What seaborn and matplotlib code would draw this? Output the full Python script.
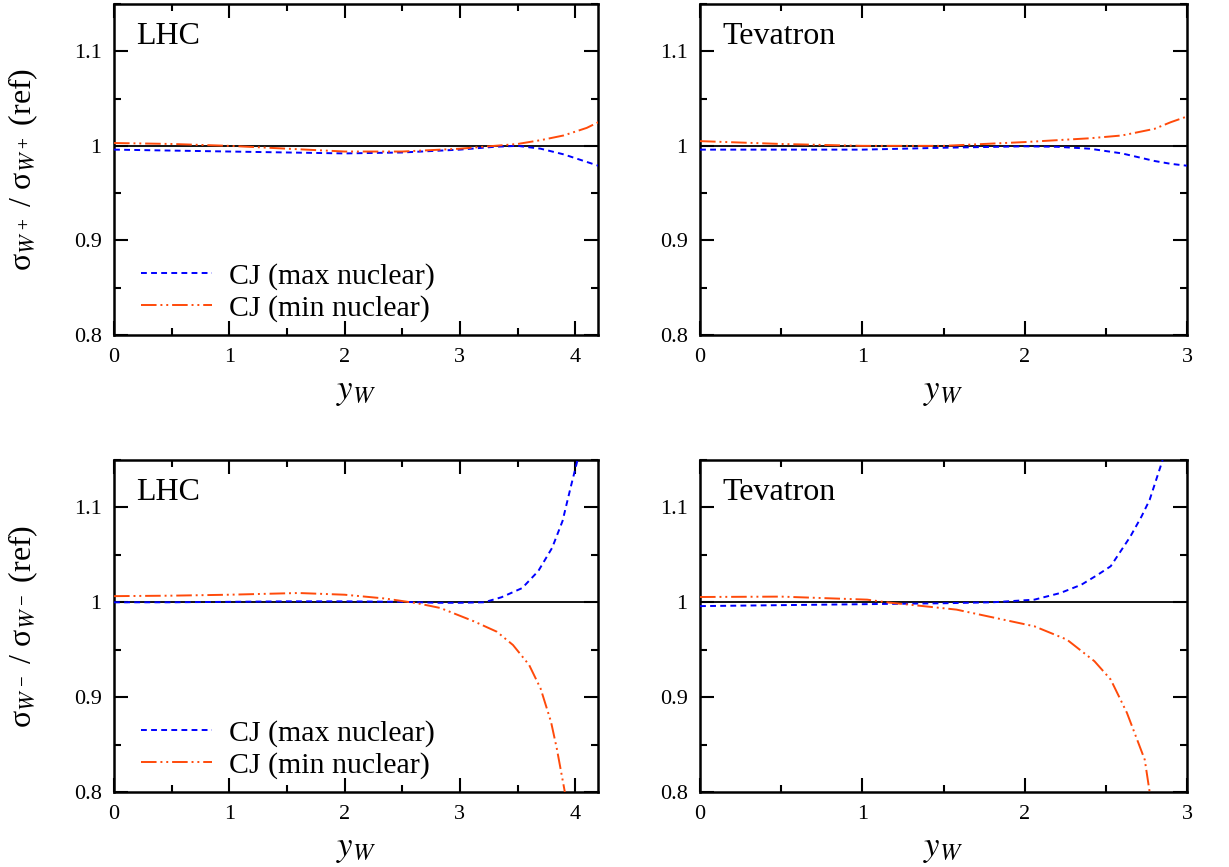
import pandas as pd
import seaborn as sns
import matplotlib.pyplot as plt
from matplotlib.ticker import MultipleLocator, FuncFormatter

# rapidity grids and ratios
# W+ at LHC
lhc_wp_x = [0, 0.5, 1, 1.5, 2, 2.5, 3, 3.3, 3.5, 3.7, 3.9, 4.1, 4.2]
lhc_wp_max = [0.996, 0.995, 0.994, 0.993, 0.992, 0.993, 0.996, 0.999, 1.000, 0.997, 0.991, 0.983, 0.979]
lhc_wp_min = [1.003, 1.002, 1.000, 0.997, 0.994, 0.994, 0.997, 1.000, 1.002, 1.006, 1.011, 1.019, 1.025]

# W+ at Tevatron
tev_wp_x = [0, 0.5, 1, 1.5, 2, 2.2, 2.4, 2.6, 2.8, 2.9, 3.0]
tev_wp_max = [0.996, 0.996, 0.996, 0.998, 0.9995, 0.999, 0.997, 0.992, 0.984, 0.981, 0.979]
tev_wp_min = [1.005, 1.002, 1.000, 1.000, 1.004, 1.006, 1.008, 1.011, 1.018, 1.025, 1.031]

# W- at LHC
lhc_wm_x_max = [0, 0.5, 1, 1.5, 2, 2.5, 2.8, 3.0, 3.21, 3.36, 3.54, 3.68, 3.8, 3.89, 3.96, 4.02]
lhc_wm_max = [1.0, 1.0, 1.0005, 1.001, 1.001, 1.0005, 0.9995, 0.9995, 1.0, 1.0053, 1.015, 1.033, 1.0575, 1.0857, 1.121, 1.15]
lhc_wm_x_min = [0, 0.5, 1.0, 1.6, 2.0, 2.35, 2.63, 2.83, 3.12, 3.32, 3.46, 3.6, 3.7, 3.79, 3.84, 3.91]
lhc_wm_min = [1.0065, 1.007, 1.008, 1.0098, 1.008, 1.004, 0.999, 0.994, 0.980, 0.969, 0.955, 0.934, 0.909, 0.874, 0.846, 0.80]

# W- at Tevatron
tev_wm_x_max = [0, 0.5, 1.0, 1.5, 1.8, 2.06, 2.22, 2.35, 2.45, 2.53, 2.65, 2.72, 2.77, 2.81, 2.85]
tev_wm_max = [0.996, 0.997, 0.998, 0.999, 1.0, 1.0028, 1.0098, 1.0186, 1.029, 1.038, 1.069, 1.0905, 1.108, 1.129, 1.15]
tev_wm_x_min = [0, 0.5, 1.03, 1.15, 1.58, 2.06, 2.26, 2.43, 2.53, 2.63, 2.74, 2.77]
tev_wm_min = [1.0056, 1.006, 1.0028, 1.0, 0.9923, 0.9747, 0.9607, 0.9379, 0.9186, 0.8835, 0.834, 0.80]

panel_labels = ["LHC", "Tevatron", "LHC", "Tevatron"]
series_names = ["CJ (max nuclear)", "CJ (min nuclear)"]

sns.set_style("ticks")
plt.rcParams["font.family"] = ["Liberation Serif", "DejaVu Serif"]
plt.rcParams["mathtext.fontset"] = "stix"
plt.rcParams["text.color"] = "black"
plt.rcParams["axes.labelcolor"] = "black"

fig = plt.figure(figsize=(12.29, 8.67), dpi=100)
positions = [
    [0.0928, 0.6136, 0.3940, 0.3818],
    [0.5696, 0.6136, 0.3962, 0.3818],
    [0.0928, 0.0865, 0.3940, 0.3829],
    [0.5696, 0.0865, 0.3962, 0.3829],
]
axes = [fig.add_axes(p) for p in positions]

panels = [
    (lhc_wp_x, lhc_wp_max, lhc_wp_x, lhc_wp_min, 4.2),
    (tev_wp_x, tev_wp_max, tev_wp_x, tev_wp_min, 3.0),
    (lhc_wm_x_max, lhc_wm_max, lhc_wm_x_min, lhc_wm_min, 4.2),
    (tev_wm_x_max, tev_wm_max, tev_wm_x_min, tev_wm_min, 3.0),
]

blue = "#0000ff"
orange = "#ff4a0a"

for i, (ax, (xa, ya, xb, yb, xmax)) in enumerate(zip(axes, panels)):
    ax.axhline(1.0, color="black", lw=1.3, zorder=1)
    sns.lineplot(x=xa, y=ya, ax=ax, color=blue, lw=1.4, label=series_names[0],
                 linestyle=(0, (3, 2.2)), zorder=3)
    sns.lineplot(x=xb, y=yb, ax=ax, color=orange, lw=1.4, label=series_names[1],
                 linestyle=(0, (8, 2, 1, 2, 1, 2)), zorder=3)
    ax.set_xlim(0, xmax)
    ax.set_ylim(0.8, 1.15)
    ax.xaxis.set_major_locator(MultipleLocator(1))
    ax.xaxis.set_minor_locator(MultipleLocator(0.5))
    ax.yaxis.set_major_locator(MultipleLocator(0.1))
    ax.yaxis.set_minor_locator(MultipleLocator(0.05))
    ax.yaxis.set_major_formatter(FuncFormatter(lambda v, p: f"{v:g}"))
    ax.xaxis.set_major_formatter(FuncFormatter(lambda v, p: f"{v:g}"))
    ax.tick_params(which="both", direction="in", top=True, right=True,
                   width=1.5, labelsize=16, colors="black")
    ax.tick_params(which="major", length=10, pad=9)
    ax.tick_params(which="minor", length=5)
    for s in ax.spines.values():
        s.set_linewidth(1.8)
        s.set_color("black")
    ax.text(0.045, 0.945, panel_labels[i], transform=ax.transAxes,
            fontsize=23, va="top", ha="left")
    ax.set_xlabel(r"$y_W$", fontsize=25, labelpad=6)
    ax.set_ylabel("")
    if i % 2 == 0:
        ax.legend(loc="lower left", bbox_to_anchor=(0.027, 0.0), frameon=False,
                  fontsize=21.5, handlelength=2.4, handletextpad=0.55,
                  labelspacing=0.15, borderaxespad=0.05)
    else:
        ax.get_legend().remove()

axes[0].set_ylabel(r"σ$_{W^+}$ / σ$_{W^+}$ (ref)", fontsize=23, labelpad=24)
axes[2].set_ylabel(r"σ$_{W^-}$ / σ$_{W^-}$ (ref)", fontsize=23, labelpad=24)

fig.savefig("out.png", dpi=100)
